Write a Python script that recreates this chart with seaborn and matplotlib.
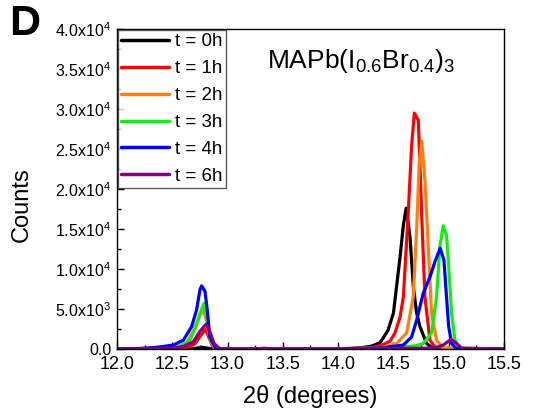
import matplotlib
matplotlib.use("Agg")
import matplotlib.pyplot as plt
import seaborn as sns
import pandas as pd
from matplotlib.ticker import MultipleLocator, FuncFormatter

sns.set_theme(style="ticks")
plt.rcParams["font.family"] = ["Liberation Sans", "DejaVu Sans"]
plt.rcParams["mathtext.fontset"] = "custom"
plt.rcParams["mathtext.rm"] = "Liberation Sans"
plt.rcParams["mathtext.it"] = "Liberation Sans:italic"
plt.rcParams["text.color"] = "black"
plt.rcParams["axes.labelcolor"] = "black"
plt.rcParams["xtick.color"] = "black"
plt.rcParams["ytick.color"] = "black"

# XRD scans of MAPb(I0.6Br0.4)3 film at successive times
labels = ["t = 0h", "t = 1h", "t = 2h", "t = 3h", "t = 4h", "t = 6h"]
colors = ["#000000", "#ff0000", "#ff7f0e", "#11ee11", "#0000ff", "#800080"]

x_0h = [12.0, 12.6, 12.7, 12.77, 12.85, 13.0, 14.0, 14.2, 14.3, 14.38, 14.45, 14.5,
        14.56, 14.59, 14.615, 14.65, 14.68, 14.71, 14.74, 14.8, 14.85, 15.0, 15.5]
y_0h = [0, 0, 60, 220, 40, 0, 0, 150, 350, 800, 2300, 4500,
        11500, 15500, 17600, 14000, 7800, 4500, 2800, 700, 150, 0, 0]

x_1h = [12.0, 12.5, 12.6, 12.66, 12.705, 12.75, 12.8, 12.834, 12.87, 12.95, 14.0, 14.3,
        14.4, 14.47, 14.514, 14.56, 14.59, 14.634, 14.664, 14.689, 14.725, 14.74, 14.755,
        14.785, 14.83, 14.88, 15.0, 15.5]
y_1h = [0, 50, 150, 300, 650, 1550, 2460, 1330, 210, 0, 0, 150,
        500, 1000, 2000, 4000, 6500, 17000, 25300, 29500, 28600, 23000, 17000,
        6500, 1100, 200, 0, 0]

x_2h = [12.0, 12.5, 12.62, 12.7, 12.75, 12.78, 12.81, 12.84, 12.88, 12.95, 14.0, 14.4,
        14.53, 14.62, 14.679, 14.71, 14.733, 14.756, 14.785, 14.815, 14.845, 14.89,
        14.95, 15.5]
y_2h = [0, 80, 500, 2500, 4300, 4800, 3600, 1200, 150, 0, 0, 200,
        700, 2000, 6500, 14900, 23200, 26000, 21100, 12800, 4500, 1100,
        150, 0]

x_3h = [12.0, 12.5, 12.57, 12.66, 12.72, 12.76, 12.787, 12.816, 12.846, 12.89, 12.95,
        14.0, 14.5, 14.7, 14.77, 14.845, 14.89, 14.92, 14.95, 14.98, 15.0, 15.026,
        15.056, 15.1, 15.5]
y_3h = [0, 150, 380, 1100, 3000, 4800, 5700, 3600, 1100, 100, 0,
        0, 150, 400, 700, 2000, 6500, 12800, 15400, 14200, 10300, 4500,
        1100, 100, 0]

x_4h = [12.0, 12.2, 12.36, 12.51, 12.6, 12.675, 12.72, 12.75, 12.766, 12.796, 12.816,
        12.84, 12.886, 12.95, 14.0, 14.4, 14.59, 14.664, 14.71, 14.77, 14.83, 14.875,
        14.923, 14.957, 14.98, 15.0, 15.026, 15.07, 15.5]
y_4h = [0, 60, 210, 500, 1100, 2800, 4900, 7400, 7900, 7200, 4900,
        1500, 200, 0, 0, 150, 500, 1500, 3600, 7000, 9000, 10900,
        12600, 11100, 6500, 2800, 700, 50, 0]

x_6h = [12.0, 12.5, 12.6, 12.69, 12.75, 12.805, 12.84, 12.877, 12.93, 13.0, 13.25,
        13.33, 13.42, 14.0, 14.8, 14.9, 14.95, 15.02, 15.07, 15.12, 15.5]
y_6h = [0, 100, 300, 900, 2200, 3100, 2200, 700, 50, 0, 0,
        100, 0, 0, 100, 250, 500, 1200, 700, 90, 0]

xs = [x_0h, x_1h, x_2h, x_3h, x_4h, x_6h]
ys = [y_0h, y_1h, y_2h, y_3h, y_4h, y_6h]

frames = []
for lab, xv, yv in zip(labels, xs, ys):
    frames.append(pd.DataFrame({"two_theta": xv, "counts": yv, "time": lab}))
df = pd.concat(frames, ignore_index=True)

fig = plt.figure(figsize=(5.33, 4.15), dpi=100)
ax = fig.add_axes([0.2195, 0.159, 0.7261, 0.771])

sns.lineplot(data=df, x="two_theta", y="counts", hue="time", hue_order=labels,
             palette=colors, estimator=None, sort=False, linewidth=2.3, ax=ax,
             legend=False)

ax.set_xlim(12.0, 15.5)
ax.set_ylim(0, 40000)
ax.xaxis.set_major_locator(MultipleLocator(0.5))
ax.xaxis.set_minor_locator(MultipleLocator(0.25))
ax.yaxis.set_major_locator(MultipleLocator(5000))
ax.yaxis.set_minor_locator(MultipleLocator(2500))


def sci_fmt(v, pos):
    if v == 0:
        return "0.0"
    return r"%.1fx10$^{4}$" % (v / 1e4) if v >= 1e4 else r"%.1fx10$^{3}$" % (v / 1e3)


ax.yaxis.set_major_formatter(FuncFormatter(sci_fmt))
ax.tick_params(axis="both", which="both", direction="in", top=False, right=False,
               color="black", width=1)
ax.tick_params(axis="both", which="major", length=5)
ax.tick_params(axis="both", which="minor", length=3)
ax.tick_params(axis="x", labelsize=13, pad=5)
ax.tick_params(axis="y", labelsize=11.5, pad=4)
for s in ax.spines.values():
    s.set_color("black")
    s.set_linewidth(1.0)

ax.set_xlabel("2θ (degrees)", fontsize=17, labelpad=9)
ax.set_ylabel("Counts", fontsize=17)
ax.yaxis.set_label_coords(-0.218, 0.45)

handles = [plt.Line2D([], [], color=c, linewidth=2.5) for c in colors]
leg = ax.legend(handles, labels, loc="upper left", bbox_to_anchor=(0.0, 1.0),
                borderaxespad=0.05, frameon=True, fancybox=False, fontsize=13.5,
                handlelength=2.55, handletextpad=0.3, labelspacing=0.52,
                borderpad=0.18)
leg.get_frame().set_edgecolor("#333333")
leg.get_frame().set_linewidth(1.0)

ax.text(0.63, 0.878, r"MAPb(I$_{0.6}$Br$_{0.4}$)$_3$", transform=ax.transAxes,
        ha="center", va="baseline", fontsize=19)

fig.text(0.047, 0.942, "D", fontsize=31, fontweight="bold", ha="center", va="center")

fig.savefig("out.png", dpi=100)
